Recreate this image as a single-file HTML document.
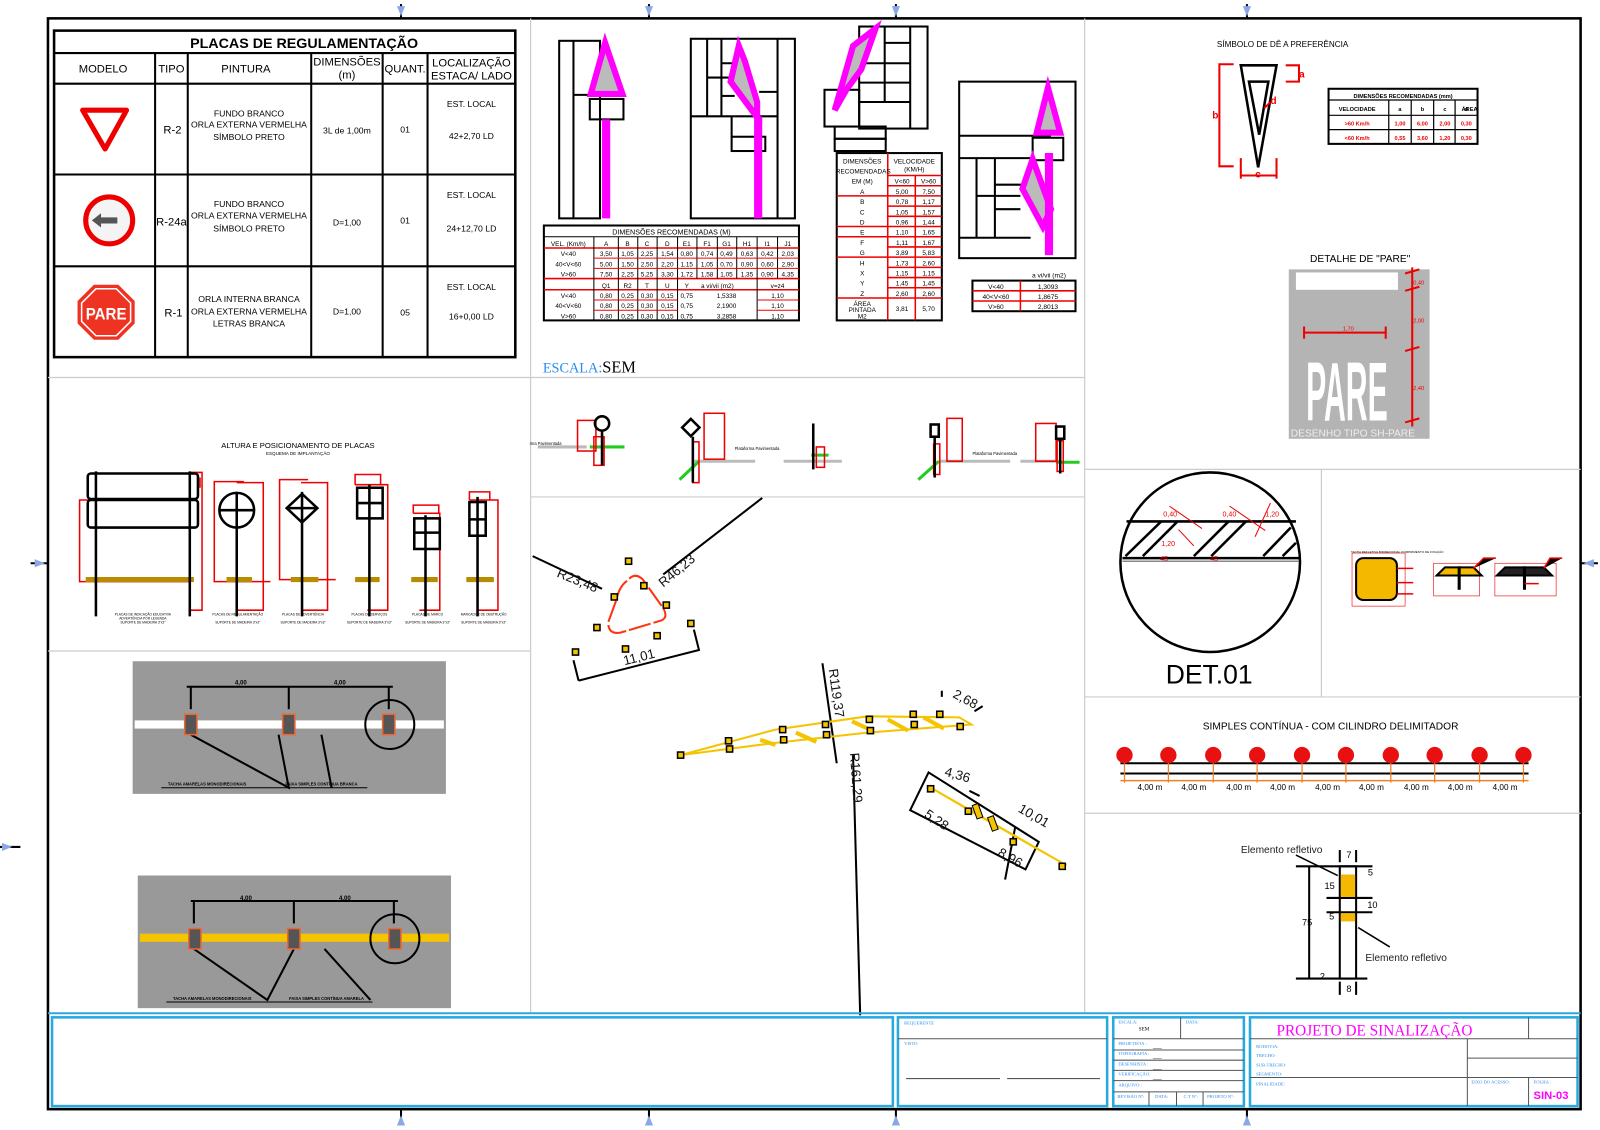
<!DOCTYPE html>
<html><head><meta charset="utf-8"><style>
html,body{margin:0;padding:0;background:#fff;width:1600px;height:1130px;overflow:hidden}
svg{display:block}
text{font-family:"Liberation Sans",sans-serif}
text.sf,tspan.sf{font-family:"Liberation Serif",serif}
</style></head><body>
<svg width="1600" height="1130" viewBox="0 0 1600 1130" xmlns="http://www.w3.org/2000/svg">
<g transform="matrix(1.0204 0 0 1.0204 0 0)">
<rect x="47" y="18" width="1502" height="1069" fill="none" stroke="#000" stroke-width="2.5"/>
<g stroke="#000" stroke-width="2">
<line x1="393" y1="4" x2="393" y2="18"/><line x1="636" y1="4" x2="636" y2="18"/><line x1="878" y1="4" x2="878" y2="18"/><line x1="1222" y1="4" x2="1222" y2="18"/>
<line x1="393" y1="1087" x2="393" y2="1103"/><line x1="636" y1="1087" x2="636" y2="1103"/><line x1="878" y1="1087" x2="878" y2="1103"/><line x1="1222" y1="1087" x2="1222" y2="1103"/>
<line x1="30" y1="552" x2="47" y2="552"/><line x1="0" y1="830" x2="20" y2="830"/><line x1="1549" y1="552" x2="1566" y2="552"/>
</g>
<g fill="#8aa8e8"><path d="M389 6h8l-4 10z"/><path d="M632 6h8l-4 10z"/><path d="M874 6h8l-4 10z"/><path d="M1218 6h8l-4 10z"/>
<path d="M389 1103h8l-4 -10z"/><path d="M632 1103h8l-4 -10z"/><path d="M874 1103h8l-4 -10z"/><path d="M1218 1103h8l-4 -10z"/>
<path d="M34 548v8l10 -4z"/><path d="M1562 548v8l-10 -4z"/><path d="M2 826v8l10-4z"/></g>
<g stroke="#ccc" stroke-width="1.2" fill="none">
<line x1="520" y1="18" x2="520" y2="993"/><line x1="1063" y1="18" x2="1063" y2="993"/>
<line x1="47" y1="370" x2="1063" y2="370"/><line x1="47" y1="638" x2="520" y2="638"/>
<line x1="520" y1="487" x2="1063" y2="487"/>
<line x1="1063" y1="460" x2="1549" y2="460"/><line x1="1295" y1="460" x2="1295" y2="683"/>
<line x1="1063" y1="683" x2="1549" y2="683"/><line x1="1063" y1="797" x2="1549" y2="797"/>
</g>

<g stroke="#000" fill="none">
<rect x="53" y="30" width="452" height="320" stroke-width="2.5"/>
<line x1="53" y1="52" x2="505" y2="52" stroke-width="2"/>
<line x1="53" y1="82" x2="505" y2="82" stroke-width="2"/>
<line x1="53" y1="171" x2="505" y2="171" stroke-width="2"/>
<line x1="53" y1="261" x2="505" y2="261" stroke-width="2"/>
<line x1="152" y1="52" x2="152" y2="350" stroke-width="2"/>
<line x1="184" y1="52" x2="184" y2="350" stroke-width="2"/>
<line x1="305" y1="52" x2="305" y2="350" stroke-width="2"/>
<line x1="375" y1="52" x2="375" y2="350" stroke-width="2"/>
<line x1="419" y1="52" x2="419" y2="350" stroke-width="2"/>
</g>
<g text-anchor="middle" fill="#000">
<text x="298" y="47" font-size="14" font-weight="bold">PLACAS DE REGULAMENTAÇÃO</text>
<text x="101" y="71" font-size="11">MODELO</text><text x="168" y="71" font-size="11">TIPO</text><text x="241" y="71" font-size="11">PINTURA</text>
<text x="340" y="64" font-size="11">DIMENSÕES</text><text x="340" y="77" font-size="11">(m)</text>
<text x="397" y="71" font-size="11">QUANT.</text>
<text x="462" y="65" font-size="11">LOCALIZAÇÃO</text><text x="462" y="78" font-size="11">ESTACA/ LADO</text>
<g font-size="8.5">
<text x="244" y="114">FUNDO BRANCO</text><text x="244" y="125">ORLA EXTERNA VERMELHA</text><text x="244" y="137">SÍMBOLO PRETO</text>
<text x="244" y="203">FUNDO BRANCO</text><text x="244" y="214">ORLA EXTERNA VERMELHA</text><text x="244" y="227">SÍMBOLO PRETO</text>
<text x="244" y="296">ORLA INTERNA BRANCA</text><text x="244" y="308">ORLA EXTERNA VERMELHA</text><text x="244" y="320">LETRAS BRANCA</text>
<text x="340" y="131">3L de 1,00m</text><text x="340" y="221">D=1,00</text><text x="340" y="308">D=1,00</text>
<text x="397" y="130">01</text><text x="397" y="219">01</text><text x="397" y="309">05</text>
<text x="462" y="105">EST.  LOCAL</text><text x="462" y="136">42+2,70 LD</text>
<text x="462" y="194">EST.  LOCAL</text><text x="462" y="227">24+12,70 LD</text>
<text x="462" y="284">EST.  LOCAL</text><text x="462" y="313">16+0,00 LD</text>
</g>
<text x="169" y="131" font-size="11">R-2</text><text x="168" y="221" font-size="11">R-24a</text><text x="170" y="310" font-size="11">R-1</text>
</g>
<polygon points="81,108 124,108 103,146" fill="none" stroke="#e00" stroke-width="5" stroke-linejoin="round"/>
<circle cx="107" cy="216" r="23" fill="#f4f4f4" stroke="#e00" stroke-width="5"/>
<path d="M90 216 l9 -7 v4 h16 v6 h-16 v4z" fill="#555"/>
<polygon points="92,279 116,279 132,295 132,317 116,333 92,333 76,317 76,295" fill="#e32" />
<polygon points="94,283 114,283 128,297 128,315 114,329 94,329 80,315 80,297" fill="none" stroke="#fff" stroke-width="1.5"/>
<text x="104" y="313" font-size="16" font-weight="bold" fill="#fff" text-anchor="middle" textLength="40" lengthAdjust="spacingAndGlyphs">PARE</text>

<g stroke="#000" stroke-width="2" fill="none">
<rect x="548" y="40" width="40" height="174"/><line x1="562" y1="40" x2="562" y2="214"/><line x1="562" y1="93" x2="578" y2="93"/>
<rect x="578" y="97" width="33" height="20"/>
<rect x="677" y="38" width="102" height="176"/><line x1="693" y1="38" x2="693" y2="114"/><line x1="707" y1="38" x2="707" y2="114"/><line x1="677" y1="114" x2="720" y2="114"/>
<line x1="707" y1="62" x2="726" y2="62"/><line x1="693" y1="76" x2="720" y2="76"/><line x1="707" y1="94" x2="720" y2="94"/>
<line x1="762" y1="38" x2="762" y2="214"/><line x1="744" y1="90" x2="762" y2="90"/><line x1="720" y1="114" x2="762" y2="114"/>
<rect x="717" y="134" width="33" height="14"/><line x1="717" y1="114" x2="717" y2="134"/>
<rect x="842" y="26" width="67" height="100"/><line x1="867" y1="26" x2="867" y2="100"/><line x1="892" y1="26" x2="892" y2="126"/>
<line x1="867" y1="42" x2="892" y2="42"/><line x1="842" y1="62" x2="892" y2="62"/><line x1="842" y1="81" x2="892" y2="81"/><line x1="842" y1="100" x2="892" y2="100"/>
<rect x="808" y="88" width="34" height="36"/><rect x="818" y="124" width="50" height="12"/><rect x="818" y="136" width="50" height="12"/>
<rect x="940" y="80" width="114" height="173"/><line x1="940" y1="133" x2="1030" y2="133"/><line x1="940" y1="155" x2="1010" y2="155"/>
<line x1="957" y1="155" x2="957" y2="233"/><line x1="975" y1="155" x2="975" y2="233"/><line x1="940" y1="233" x2="1010" y2="233"/>
<line x1="975" y1="181" x2="1005" y2="181"/><line x1="957" y1="192" x2="1000" y2="192"/><line x1="975" y1="205" x2="1000" y2="205"/>
<rect x="1012" y="135" width="30" height="22"/>
</g>
<g stroke="#f0f" stroke-width="6" fill="#bbb" stroke-linejoin="miter">
<polygon points="593,42 579,92 610,92"/>
<polygon points="724,45 716,80 742,115 742,100 730,60"/>
<polygon points="858,28 836,45 818,108 830,87 844,68"/>
<polygon points="1027,86 1016,130 1039,130"/>
<polygon points="1012,156 1002,185 1022,222 1030,205"/>
</g>
<g stroke="#f0f" stroke-width="8" fill="none">
<line x1="594" y1="117" x2="594" y2="214"/><line x1="743" y1="114" x2="743" y2="214"/><line x1="1028" y1="150" x2="1028" y2="250"/>
</g>

<g font-size="6.3" text-anchor="middle" fill="#000">
<rect x="533" y="221" width="250" height="93" fill="none" stroke="#000" stroke-width="2"/>
<g stroke="#e00" stroke-width="1.5">
<line x1="533" y1="243" x2="783" y2="243"/><line x1="533" y1="273" x2="783" y2="273"/><line x1="533" y1="284" x2="783" y2="284"/>
</g>
<g stroke="#000" stroke-width="1"><line x1="533" y1="232" x2="783" y2="232"/>
<line x1="582" y1="232" x2="582" y2="314"/><line x1="606" y1="232" x2="606" y2="314"/><line x1="625" y1="232" x2="625" y2="314"/><line x1="644" y1="232" x2="644" y2="314"/><line x1="664" y1="232" x2="664" y2="314"/><line x1="683" y1="232" x2="683" y2="273"/><line x1="703" y1="232" x2="703" y2="273"/><line x1="722" y1="232" x2="722" y2="273"/><line x1="742" y1="232" x2="742" y2="314"/><line x1="762" y1="232" x2="762" y2="273"/>
<line x1="582" y1="253" x2="783" y2="253" stroke="#e00"/><line x1="582" y1="263" x2="783" y2="263" stroke="#e00"/><line x1="582" y1="294" x2="664" y2="294" stroke="#e00"/><line x1="582" y1="304" x2="664" y2="304" stroke="#e00"/><line x1="742" y1="294" x2="783" y2="294" stroke="#e00"/><line x1="742" y1="304" x2="783" y2="304" stroke="#e00"/></g>
<text x="658" y="230" font-size="7">DIMENSÕES  RECOMENDADAS  (M)</text>
<text x="557" y="241">VEL. (Km/h)</text><text x="594" y="241">A</text><text x="615" y="241">B</text><text x="634" y="241">C</text><text x="654" y="241">D</text><text x="673" y="241">E1</text><text x="693" y="241">F1</text><text x="712" y="241">G1</text><text x="732" y="241">H1</text><text x="752" y="241">I1</text><text x="772" y="241">J1</text>
<text x="557" y="251">V&lt;40</text><text x="594" y="251">3,50</text><text x="615" y="251">1,05</text><text x="634" y="251">2,25</text><text x="654" y="251">1,54</text><text x="673" y="251">0,80</text><text x="693" y="251">0,74</text><text x="712" y="251">0,49</text><text x="732" y="251">0,63</text><text x="752" y="251">0,42</text><text x="772" y="251">2,03</text>
<text x="557" y="261">40&lt;V&lt;60</text><text x="594" y="261">5,00</text><text x="615" y="261">1,50</text><text x="634" y="261">2,50</text><text x="654" y="261">2,20</text><text x="673" y="261">1,15</text><text x="693" y="261">1,05</text><text x="712" y="261">0,70</text><text x="732" y="261">0,90</text><text x="752" y="261">0,60</text><text x="772" y="261">2,90</text>
<text x="557" y="271">V&gt;60</text><text x="594" y="271">7,50</text><text x="615" y="271">2,25</text><text x="634" y="271">5,25</text><text x="654" y="271">3,30</text><text x="673" y="271">1,72</text><text x="693" y="271">1,58</text><text x="712" y="271">1,05</text><text x="732" y="271">1,35</text><text x="752" y="271">0,90</text><text x="772" y="271">4,35</text>
<text x="594" y="282">Q1</text><text x="615" y="282">R2</text><text x="634" y="282">T</text><text x="654" y="282">U</text><text x="673" y="282">Y</text><text x="703" y="282">a vi/vii (m2)</text><text x="762" y="282">v=z4</text>
<text x="557" y="292">V&lt;40</text><text x="557" y="302">40&lt;V&lt;60</text><text x="557" y="312">V&gt;60</text>
<text x="594" y="292">0,80</text><text x="615" y="292">0,25</text><text x="634" y="292">0,30</text><text x="654" y="292">0,15</text><text x="673" y="292">0,75</text><text x="712" y="292">1,5338</text><text x="762" y="292">1,10</text>
<text x="594" y="302">0,80</text><text x="615" y="302">0,25</text><text x="634" y="302">0,30</text><text x="654" y="302">0,15</text><text x="673" y="302">0,75</text><text x="712" y="302">2,1900</text><text x="762" y="302">1,10</text>
<text x="594" y="312">0,80</text><text x="615" y="312">0,25</text><text x="634" y="312">0,30</text><text x="654" y="312">0,15</text><text x="673" y="312">0,75</text><text x="712" y="312">3,2858</text><text x="762" y="312">1,10</text>
</g>
<g font-size="6.3" text-anchor="middle" fill="#000">
<rect x="820" y="150" width="103" height="164" fill="none" stroke="#000" stroke-width="2"/>
<g stroke="#e00" stroke-width="1.5"><line x1="870" y1="172" x2="923" y2="172"/><line x1="870" y1="182" x2="923" y2="182"/><line x1="820" y1="192" x2="923" y2="192"/><line x1="870" y1="202" x2="923" y2="202"/><line x1="870" y1="212" x2="923" y2="212"/><line x1="820" y1="222" x2="923" y2="222"/><line x1="820" y1="232" x2="923" y2="232"/><line x1="870" y1="242" x2="923" y2="242"/><line x1="820" y1="252" x2="923" y2="252"/><line x1="870" y1="262" x2="923" y2="262"/><line x1="870" y1="272" x2="923" y2="272"/><line x1="870" y1="282" x2="923" y2="282"/><line x1="820" y1="292" x2="923" y2="292"/>
<line x1="870" y1="150" x2="870" y2="314"/><line x1="897" y1="172" x2="897" y2="314"/></g>
<text x="845" y="160">DIMENSÕES</text><text x="846" y="170">RECOMENDADAS</text><text x="845" y="180">EM (M)</text>
<text x="896" y="160">VELOCIDADE</text><text x="896" y="168">(KM/H)</text><text x="884" y="180">V&lt;60</text><text x="910" y="180">V&gt;60</text>
<text x="845" y="190">A</text><text x="884" y="190">5,00</text><text x="910" y="190">7,50</text>
<text x="845" y="200">B</text><text x="884" y="200">0,78</text><text x="910" y="200">1,17</text>
<text x="845" y="210">C</text><text x="884" y="210">1,05</text><text x="910" y="210">1,57</text>
<text x="845" y="220">D</text><text x="884" y="220">0,96</text><text x="910" y="220">1,44</text>
<text x="845" y="230">E</text><text x="884" y="230">1,10</text><text x="910" y="230">1,65</text>
<text x="845" y="240">F</text><text x="884" y="240">1,11</text><text x="910" y="240">1,67</text>
<text x="845" y="250">G</text><text x="884" y="250">3,89</text><text x="910" y="250">5,83</text>
<text x="845" y="260">H</text><text x="884" y="260">1,73</text><text x="910" y="260">2,60</text>
<text x="845" y="270">X</text><text x="884" y="270">1,15</text><text x="910" y="270">1,15</text>
<text x="845" y="280">Y</text><text x="884" y="280">1,45</text><text x="910" y="280">1,45</text>
<text x="845" y="290">Z</text><text x="884" y="290">2,60</text><text x="910" y="290">2,60</text>
<text x="845" y="300">ÁREA</text><text x="845" y="306">PINTADA</text><text x="845" y="312">M2</text><text x="884" y="305">3,81</text><text x="910" y="305">5,70</text>
</g>
<g font-size="6.5" text-anchor="middle" fill="#000">
<text x="1028" y="272">a vi/vii (m2)</text>
<rect x="953" y="275" width="101" height="30" fill="none" stroke="#000" stroke-width="2"/>
<g stroke="#e00" stroke-width="1.5"><line x1="953" y1="285" x2="1054" y2="285"/><line x1="953" y1="295" x2="1054" y2="295"/><line x1="1000" y1="275" x2="1000" y2="305"/></g>
<text x="976" y="283">V&lt;40</text><text x="1027" y="283">1,3093</text>
<text x="976" y="293">40&lt;V&lt;60</text><text x="1027" y="293">1,8675</text>
<text x="976" y="303">V&gt;60</text><text x="1027" y="303">2,8013</text>
</g>
<text x="532" y="365" class="sf" font-size="14" fill="#2a8cf0">ESCALA:<tspan class="sf" fill="#000" font-size="16">SEM</tspan></text>

<text x="1257" y="46" font-size="8" text-anchor="middle">SÍMBOLO  DE  DÊ  A  PREFERÊNCIA</text>
<polygon points="1216,64 1251,64 1233,164" fill="none" stroke="#000" stroke-width="2.5"/>
<polygon points="1224,80 1243,80 1234,132" fill="none" stroke="#000" stroke-width="2.5"/>
<g stroke="#e00" stroke-width="2" fill="none"><path d="M1209 63h-14v100h14M1260 64h13v16h-13M1216 155v20M1251 155v20M1215 172h36M1245 100l-6 6"/></g>
<g fill="#e00" font-size="10" font-weight="bold"><text x="1188" y="116">b</text><text x="1273" y="76">a</text><text x="1245" y="102">d</text><text x="1230" y="174">c</text></g>
<g font-size="5.5" font-weight="bold" text-anchor="middle">
<rect x="1302" y="87" width="146" height="54" fill="none" stroke="#000" stroke-width="2"/>
<g stroke="#000" stroke-width="1.2"><line x1="1302" y1="98" x2="1448" y2="98"/><line x1="1302" y1="113" x2="1448" y2="113"/><line x1="1302" y1="127" x2="1448" y2="127"/>
<line x1="1361" y1="98" x2="1361" y2="141"/><line x1="1383" y1="98" x2="1383" y2="141"/><line x1="1405" y1="98" x2="1405" y2="141"/><line x1="1426" y1="98" x2="1426" y2="141"/></g>
<text x="1375" y="96">DIMENSÕES  RECOMENDADAS  (mm)</text>
<text x="1330" y="109">VELOCIDADE</text><text x="1372" y="109">a</text><text x="1394" y="109">b</text><text x="1416" y="109">c</text><text x="1437" y="109">d</text><text x="1448" y="109" text-anchor="end">ÁREA</text>
<g fill="#e00"><text x="1330" y="123">&gt;60 Km/h</text><text x="1372" y="123">1,00</text><text x="1394" y="123">6,00</text><text x="1416" y="123">2,00</text><text x="1437" y="123">0,30</text>
<text x="1330" y="137">&lt;60 Km/h</text><text x="1372" y="137">0,55</text><text x="1394" y="137">3,60</text><text x="1416" y="137">1,20</text><text x="1437" y="137">0,30</text></g>
</g>
<text x="1333" y="257" font-size="10" text-anchor="middle">DETALHE DE "PARE"</text>
<rect x="1263" y="264" width="138" height="166" fill="#b4b4b4"/>
<rect x="1270" y="267" width="100" height="17" fill="#fff"/>
<text x="1320" y="412" font-size="82" font-weight="bold" fill="#fff" text-anchor="middle" textLength="80" lengthAdjust="spacingAndGlyphs">PARE</text>
<text x="1265" y="428" font-size="10" fill="#eee">DESENHO TIPO SH-PARE</text>
<g stroke="#e00" stroke-width="2"><line x1="1384" y1="262" x2="1384" y2="418"/><line x1="1278" y1="326" x2="1358" y2="326"/>
<path d="M1377 268l14 -4M1377 285l14 -4M1377 344l14 -4M1377 414l14 -4M1278 320v12M1358 320v12"/></g>
<g fill="#e00" font-size="5.5"><text x="1385" y="279">0,40</text><text x="1385" y="316">2,00</text><text x="1385" y="382">2,40</text><text x="1316" y="324">1,70</text></g>

<circle cx="1186" cy="551" r="88" fill="none" stroke="#000" stroke-width="2.5"/>
<g stroke="#000" stroke-width="2.5"><line x1="1104" y1="511" x2="1270" y2="511"/><line x1="1100" y1="547" x2="1273" y2="547"/></g>
<g stroke="#888" stroke-width="1.5"><line x1="1100" y1="550" x2="1273" y2="550"/></g>
<g stroke="#000" stroke-width="2.5"><line x1="1103" y1="545" x2="1138" y2="511"/><line x1="1120" y1="545" x2="1154" y2="511"/><line x1="1170" y1="545" x2="1204" y2="511"/><line x1="1187" y1="545" x2="1221" y2="511"/><line x1="1238" y1="545" x2="1265" y2="517"/><line x1="1257" y1="545" x2="1270" y2="532"/></g>
<g stroke="#e00" stroke-width="1"><line x1="1146" y1="496" x2="1178" y2="518"/><line x1="1205" y1="496" x2="1240" y2="520"/><line x1="1245" y1="493" x2="1230" y2="526"/><line x1="1155" y1="519" x2="1170" y2="535"/></g>
<g fill="#e00" font-size="7"><text x="1140" y="506">0,40</text><text x="1198" y="506">0,40</text><text x="1240" y="506">1,20</text><text x="1138" y="535">1,20</text><text x="1137" y="550">45</text><text x="1186" y="550">45</text></g>
<text x="1185" y="670" font-size="26" text-anchor="middle">DET.01</text>
<g stroke="#e00" stroke-width="0.6" fill="none"><rect x="1325" y="542" width="52" height="52"/><rect x="1405" y="552" width="45" height="32"/><rect x="1465" y="552" width="60" height="32"/></g>
<rect x="1329" y="547" width="40" height="41" rx="7" fill="#f5b800" stroke="#000" stroke-width="2"/>
<path d="M1408 564 l8 -8 h28 l8 8z" fill="#f5b800" stroke="#000" stroke-width="2"/><line x1="1430" y1="555" x2="1430" y2="578" stroke="#000" stroke-width="3"/>
<path d="M1467 564 l8 -8 h38 l8 8z" fill="#222" stroke="#000" stroke-width="2"/><line x1="1494" y1="555" x2="1494" y2="578" stroke="#000" stroke-width="3"/>
<g stroke="#e00" stroke-width="1.5"><path d="M1369 557h16M1369 571h16M1369 582h16M1444 557l10-10h12M1513 557l6-10h12M1494 572h14"/></g>
<text x="1324" y="542" font-size="3" fill="#000">TACHA REFLETIVA BIDIRECIONAL COMPRIMENTO DE FIXAÇÃO</text>

<text x="1304" y="715" font-size="10" text-anchor="middle">SIMPLES CONTÍNUA - COM CILINDRO DELIMITADOR</text>
<line x1="1098" y1="748" x2="1498" y2="748" stroke="#000" stroke-width="2"/>
<line x1="1098" y1="758" x2="1498" y2="758" stroke="#000" stroke-width="2"/>
<line x1="1098" y1="765" x2="1498" y2="765" stroke="#f08020" stroke-width="1.5"/>
<g stroke="#f08020" stroke-width="1.2"><line x1="1102" y1="740" x2="1102" y2="767"/><line x1="1145" y1="740" x2="1145" y2="767"/><line x1="1189" y1="740" x2="1189" y2="767"/><line x1="1232" y1="740" x2="1232" y2="767"/><line x1="1276" y1="740" x2="1276" y2="767"/><line x1="1319" y1="740" x2="1319" y2="767"/><line x1="1363" y1="740" x2="1363" y2="767"/><line x1="1406" y1="740" x2="1406" y2="767"/><line x1="1450" y1="740" x2="1450" y2="767"/><line x1="1493" y1="740" x2="1493" y2="767"/></g>
<g fill="#e81010"><circle cx="1102" cy="740" r="8"/><circle cx="1145" cy="740" r="8"/><circle cx="1189" cy="740" r="8"/><circle cx="1232" cy="740" r="8"/><circle cx="1276" cy="740" r="8"/><circle cx="1319" cy="740" r="8"/><circle cx="1363" cy="740" r="8"/><circle cx="1406" cy="740" r="8"/><circle cx="1450" cy="740" r="8"/><circle cx="1493" cy="740" r="8"/></g>
<g font-size="8" text-anchor="middle"><text x="1127" y="774">4,00 m</text><text x="1170" y="774">4,00 m</text><text x="1214" y="774">4,00 m</text><text x="1257" y="774">4,00 m</text><text x="1301" y="774">4,00 m</text><text x="1344" y="774">4,00 m</text><text x="1388" y="774">4,00 m</text><text x="1431" y="774">4,00 m</text><text x="1475" y="774">4,00 m</text></g>

<g stroke="#000" stroke-width="2" fill="none">
<rect x="1313" y="849" width="16" height="110"/>
<line x1="1270" y1="849" x2="1345" y2="849"/><line x1="1270" y1="959" x2="1340" y2="959"/><line x1="1283" y1="849" x2="1283" y2="959"/>
<line x1="1300" y1="880" x2="1345" y2="880"/><line x1="1300" y1="894" x2="1345" y2="894"/>
<line x1="1313" y1="833" x2="1313" y2="845"/><line x1="1329" y1="833" x2="1329" y2="845"/><line x1="1313" y1="962" x2="1313" y2="975"/><line x1="1329" y1="962" x2="1329" y2="975"/>
<line x1="1270" y1="838" x2="1311" y2="858" stroke-width="1.5"/><line x1="1331" y1="909" x2="1362" y2="928" stroke-width="1.5"/>
</g>
<rect x="1314" y="857" width="14" height="22" fill="#f5b800"/><rect x="1314" y="895" width="14" height="8" fill="#f5b800"/>
<g font-size="9" text-anchor="middle"><text x="1322" y="841">7</text><text x="1303" y="871">15</text><text x="1345" y="890">10</text><text x="1281" y="907">75</text><text x="1322" y="972">8</text><text x="1343" y="858">5</text><text x="1305" y="901">5</text><text x="1296" y="960">2</text></g>
<text x="1256" y="836" font-size="10" text-anchor="middle" fill="#222">Elemento refletivo</text>
<text x="1378" y="942" font-size="10" text-anchor="middle" fill="#222">Elemento refletivo</text>

<text x="292" y="439" font-size="7.5" text-anchor="middle">ALTURA E POSICIONAMENTO DE  PLACAS</text>
<text x="292" y="446" font-size="4.5" text-anchor="middle">ESQUEMA DE IMPLANTAÇÃO</text>
<g stroke="#e00" stroke-width="1.5" fill="none">
<path d="M96 490h-18v80h108M186 463h12v135h-12M196 468v10"/>
<path d="M239 472h-29v98h55M232 473h26v125h-25"/>
<path d="M302 470h-28v98h55M295 473h26v125h-25"/>
<path d="M348 475h32v123h-20M348 475v-10h25v10"/>
<path d="M405 503h26v95h-20M405 503v-8h25v8"/>
<path d="M460 490h28v108h-20M460 490v-8h20v8"/>
</g>
<g stroke="#b88c00" stroke-width="5"><line x1="84" y1="568" x2="190" y2="568"/><line x1="222" y1="568" x2="247" y2="568"/><line x1="285" y1="568" x2="312" y2="568"/><line x1="348" y1="568" x2="372" y2="568"/><line x1="403" y1="568" x2="429" y2="568"/><line x1="457" y1="568" x2="484" y2="568"/></g>
<g stroke="#000" stroke-width="2.5" fill="none">
<rect x="86" y="464" width="108" height="25" rx="3"/><rect x="86" y="490" width="108" height="27" rx="3"/>
<line x1="94" y1="462" x2="94" y2="604"/><line x1="186" y1="462" x2="186" y2="604"/>
<circle cx="232" cy="500" r="17"/><line x1="232" y1="482" x2="232" y2="604"/><line x1="216" y1="500" x2="248" y2="500"/>
<polygon points="296,484 311,498 296,512 281,498"/><line x1="296" y1="482" x2="296" y2="604"/><line x1="283" y1="498" x2="309" y2="498"/>
<rect x="350" y="478" width="25" height="30"/><line x1="362" y1="475" x2="362" y2="604"/><line x1="350" y1="493" x2="375" y2="493"/>
<rect x="406" y="508" width="25" height="30"/><line x1="417" y1="505" x2="417" y2="604"/><line x1="406" y1="522" x2="431" y2="522"/>
<rect x="460" y="492" width="16" height="33"/><line x1="468" y1="487" x2="468" y2="604"/><line x1="460" y1="509" x2="476" y2="509"/>
</g>
<g font-size="3.2" text-anchor="middle"><text x="140" y="603">PLACAS DE INDICAÇÃO EDUCATIVA</text><text x="140" y="607">ADVERTÊNCIA POR LEGENDA</text><text x="140" y="611">SUPORTE DE MADEIRA 3"x3"</text>
<text x="233" y="603">PLACAS DE REGULAMENTAÇÃO</text><text x="233" y="611">SUPORTE DE MADEIRA 3"x3"</text>
<text x="297" y="603">PLACAS DE ADVERTÊNCIA</text><text x="297" y="611">SUPORTE DE MADEIRA 3"x3"</text>
<text x="362" y="603">PLACAS DE SERVIÇOS</text><text x="362" y="611">SUPORTE DE MADEIRA 3"x3"</text>
<text x="419" y="603">PLACAS DE MARCO</text><text x="419" y="611">SUPORTE DE MADEIRA 3"x3"</text>
<text x="474" y="603">MARCADOR DE OBSTRUÇÃO</text><text x="474" y="611">SUPORTE DE MADEIRA 3"x3"</text></g>

<rect x="130" y="648" width="307" height="130" fill="#999"/>
<rect x="132" y="706" width="303" height="8" fill="#fff"/>
<rect x="135" y="858" width="307" height="130" fill="#999"/>
<rect x="137" y="915" width="303" height="8" fill="#f5c400"/>
<g stroke="#000" stroke-width="2" fill="none">
<line x1="183" y1="673" x2="385" y2="673"/><line x1="187" y1="673" x2="187" y2="695"/><line x1="283" y1="673" x2="283" y2="695"/><line x1="381" y1="673" x2="381" y2="695"/>
<circle cx="382" cy="710" r="24"/>
<path d="M187 720l96 52l-10 -52M315 720l10 52"/>
<line x1="158" y1="772" x2="360" y2="772" stroke-width="1"/>
<line x1="187" y1="883" x2="390" y2="883"/><line x1="190" y1="883" x2="190" y2="905"/><line x1="288" y1="883" x2="288" y2="905"/><line x1="386" y1="883" x2="386" y2="905"/>
<circle cx="387" cy="920" r="24"/>
<path d="M190 930l72 50l26 -50M318 930l45 50"/>
<line x1="163" y1="982" x2="365" y2="982" stroke-width="1"/>
</g>
<g fill="#555" stroke="#e63" stroke-width="1.5"><rect x="181" y="700" width="12" height="20"/><rect x="277" y="700" width="12" height="20"/><rect x="375" y="700" width="12" height="20"/>
<rect x="185" y="910" width="12" height="20"/><rect x="282" y="910" width="12" height="20"/><rect x="381" y="910" width="12" height="20"/></g>
<g font-size="6" font-weight="bold" text-anchor="middle"><text x="236" y="671">4,00</text><text x="333" y="671">4,00</text><text x="241" y="882">4,00</text><text x="338" y="882">4,00</text>
<text x="203" y="770" font-size="4">TACHA AMARELAS MONODIRECIONAIS</text><text x="315" y="770" font-size="4">FAIXA SIMPLES CONTÍNUA BRANCA</text>
<text x="208" y="980" font-size="4">TACHA AMARELAS MONODIRECIONAIS</text><text x="320" y="980" font-size="4">FAIXA SIMPLES CONTÍNUA AMARELA</text></g>

<g stroke="#bbb" stroke-width="3"><line x1="527" y1="438" x2="575" y2="438"/><line x1="680" y1="452" x2="740" y2="452"/><line x1="768" y1="452" x2="825" y2="452"/><line x1="920" y1="452" x2="990" y2="452"/><line x1="1000" y1="452" x2="1040" y2="452"/></g>
<g stroke="#2c2" stroke-width="3"><line x1="578" y1="438" x2="612" y2="438"/><line x1="666" y1="470" x2="685" y2="452"/><line x1="795" y1="446" x2="812" y2="446"/><line x1="900" y1="470" x2="920" y2="452"/><line x1="1035" y1="453" x2="1058" y2="453"/></g>
<g stroke="#e00" stroke-width="1.5" fill="none"><rect x="566" y="412" width="18" height="30"/><rect x="582" y="428" width="10" height="28"/><rect x="690" y="405" width="20" height="45"/><rect x="679" y="433" width="6" height="40"/><rect x="800" y="438" width="8" height="20"/><rect x="928" y="410" width="15" height="42"/><rect x="915" y="435" width="6" height="30"/><rect x="1015" y="415" width="20" height="37"/><rect x="1036" y="432" width="6" height="30"/></g>
<g stroke="#000" stroke-width="2.5" fill="none"><circle cx="590" cy="415" r="7"/><line x1="590" y1="422" x2="590" y2="456"/>
<rect x="671" y="413" width="12" height="12" transform="rotate(45 677 419)"/><line x1="679" y1="428" x2="679" y2="473"/>
<line x1="797" y1="415" x2="797" y2="460"/><rect x="912" y="416" width="8" height="12"/><line x1="916" y1="428" x2="916" y2="468"/><rect x="1035" y="418" width="8" height="12"/><line x1="1039" y1="430" x2="1039" y2="464"/></g>
<g font-size="4"><text x="519" y="436">rma Pavimentada</text><text x="720" y="441">Plataforma Pavimentada</text><text x="953" y="446">Plataforma Pavimentada</text></g>

<g stroke="#000" stroke-width="2" fill="none">
<path d="M522 545 l68 32"/><path d="M650 563 l97 -75"/>
<path d="M567 667 l-5 -20 M567 667 l118 -30 l-5 -20"/>
<path d="M806 650 l14 98"/><path d="M836 740 l7 255"/>
<path d="M923 677v6M955 697l8 -5"/>
<path d="M910 757l-18 37l113 58l13 -27z"/><path d="M950 775l10 5"/>
<path d="M995 810l-10 52"/>
</g>
<path d="M604 588 Q607 574 615 569 Q622 560 630 568 L650 596 Q656 607 645 609 L608 620 Q596 622 596 610z" fill="none" stroke="#f31" stroke-width="2" stroke-dasharray="22 3"/>
<path d="M667 740 L760 715 L850 702 L940 703 L952 710 L850 718 L760 728z" fill="none" stroke="#f5c400" stroke-width="2"/>
<g stroke="#f5c400" stroke-width="4"><line x1="780" y1="718" x2="800" y2="727"/><line x1="835" y1="707" x2="855" y2="716"/><line x1="870" y1="705" x2="890" y2="716"/><line x1="905" y1="703" x2="925" y2="714"/><line x1="745" y1="725" x2="760" y2="730"/></g>
<path d="M909 770 L1045 848 L955 797z" fill="none" stroke="#f5c400" stroke-width="2"/>
<g stroke="#000" stroke-width="1" fill="#f5c400"><rect x="955" y="788" width="6" height="14" transform="rotate(-20 958 795)"/><rect x="970" y="800" width="6" height="14" transform="rotate(-20 973 807)"/></g>
<g fill="#f5c400" stroke="#000" stroke-width="1.5">
<rect x="613" y="547" width="6" height="6"/><rect x="628" y="571" width="6" height="6"/><rect x="599" y="582" width="6" height="6"/><rect x="650" y="590" width="6" height="6"/><rect x="582" y="612" width="6" height="6"/><rect x="641" y="620" width="6" height="6"/><rect x="610" y="633" width="6" height="6"/><rect x="674" y="608" width="6" height="6"/><rect x="561" y="636" width="6" height="6"/>
<rect x="664" y="737" width="6" height="6"/><rect x="711" y="723" width="6" height="6"/><rect x="712" y="731" width="6" height="6"/><rect x="764" y="712" width="6" height="6"/><rect x="765" y="722" width="6" height="6"/><rect x="806" y="707" width="6" height="6"/><rect x="807" y="717" width="6" height="6"/><rect x="849" y="702" width="6" height="6"/><rect x="850" y="713" width="6" height="6"/><rect x="892" y="697" width="6" height="6"/><rect x="893" y="707" width="6" height="6"/><rect x="918" y="697" width="6" height="6"/><rect x="938" y="709" width="6" height="6"/>
<rect x="909" y="770" width="6" height="6"/><rect x="946" y="792" width="6" height="6"/><rect x="990" y="822" width="6" height="6"/><rect x="1038" y="846" width="6" height="6"/>
</g>
<g font-size="13" fill="#111">
<text x="545" y="565" transform="rotate(22 545 565)">R23,48</text>
<text x="650" y="576" transform="rotate(-40 650 576)">R46,23</text>
<text x="612" y="652" transform="rotate(-14 612 652)">11,01</text>
<text x="812" y="656" transform="rotate(82 812 656)">R119,37</text>
<text x="833" y="738" transform="rotate(86 833 738)">R161,29</text>
<text x="933" y="683" transform="rotate(28 933 683)">2,68</text>
<text x="925" y="760" transform="rotate(16 925 760)">4,36</text>
<text x="905" y="800" transform="rotate(34 905 800)">5,28</text>
<text x="997" y="795" transform="rotate(30 997 795)">10,01</text>
<text x="977" y="838" transform="rotate(30 977 838)">8,96</text>
</g>

<line x1="47" y1="993" x2="1549" y2="993" stroke="#2aa8e0" stroke-width="2"/>
<g fill="none" stroke="#2aa8e0" stroke-width="2.5">
<rect x="51" y="997" width="824" height="87"/><rect x="880" y="997" width="205" height="87"/><rect x="1091" y="997" width="128" height="87"/><rect x="1225" y="997" width="321" height="87"/>
</g>
<g stroke="#555" stroke-width="1" fill="none">
<line x1="880" y1="1018" x2="1085" y2="1018"/><line x1="888" y1="1057" x2="980" y2="1057"/><line x1="987" y1="1057" x2="1078" y2="1057"/>
<line x1="1091" y1="1018" x2="1219" y2="1018"/><line x1="1091" y1="1029" x2="1219" y2="1029"/><line x1="1091" y1="1039" x2="1219" y2="1039"/><line x1="1091" y1="1049" x2="1219" y2="1049"/><line x1="1091" y1="1059" x2="1219" y2="1059"/><line x1="1091" y1="1070" x2="1219" y2="1070"/>
<line x1="1157" y1="997" x2="1157" y2="1018"/><line x1="1126" y1="1070" x2="1126" y2="1084"/><line x1="1153" y1="1070" x2="1153" y2="1084"/><line x1="1179" y1="1070" x2="1179" y2="1084"/>
<line x1="1225" y1="1018" x2="1546" y2="1018"/><line x1="1225" y1="1056" x2="1546" y2="1056"/><line x1="1438" y1="1018" x2="1438" y2="1084"/><line x1="1438" y1="1037" x2="1546" y2="1037"/><line x1="1498" y1="997" x2="1498" y2="1018"/><line x1="1498" y1="1056" x2="1498" y2="1084"/>
</g>
<g font-size="4.5" fill="#2a8cf0">
<text class="sf" x="886" y="1004">REQUERENTE</text><text class="sf" x="886" y="1024">VISTO</text>
<text class="sf" x="1096" y="1003">ESCALA:</text><text class="sf" x="1162" y="1003">DATA:</text>
<text class="sf" x="1096" y="1024">PROJETISTA :</text><text class="sf" x="1096" y="1034">TOPOGRAFIA :</text><text class="sf" x="1096" y="1044">DESENHISTA :</text><text class="sf" x="1096" y="1054">VERIFICAÇÃO:</text><text class="sf" x="1096" y="1065">ARQUIVO :</text>
<text class="sf" x="1095" y="1076">REVISÃO Nº:</text><text class="sf" x="1132" y="1076">DATA:</text><text class="sf" x="1160" y="1076">C.T Nº:</text><text class="sf" x="1183" y="1076">PROJETO Nº:</text>
<text class="sf" x="1231" y="1027">RODOVIA:</text><text class="sf" x="1231" y="1036">TRECHO:</text><text class="sf" x="1231" y="1045">SUB-TRECHO:</text><text class="sf" x="1231" y="1054">SEGMENTO:</text><text class="sf" x="1231" y="1064">FINALIDADE:</text>
<text class="sf" x="1442" y="1062">EIXO DO ACESSO:</text><text class="sf" x="1503" y="1062">FOLHA :</text>
</g>
<text x="1116" y="1010" class="sf" font-size="5">SEM</text>
<g font-size="5"><text x="1130" y="1027">___</text><text x="1130" y="1037">___</text><text x="1130" y="1047">___</text><text x="1130" y="1057">___</text></g>
<text x="1347" y="1015" class="sf" font-size="15" fill="#f0f" text-anchor="middle">PROJETO DE SINALIZAÇÃO</text>
<text x="1520" y="1077" font-size="11" font-weight="bold" fill="#f0f" text-anchor="middle">SIN-03</text>
</g>
</svg>
</body></html>
